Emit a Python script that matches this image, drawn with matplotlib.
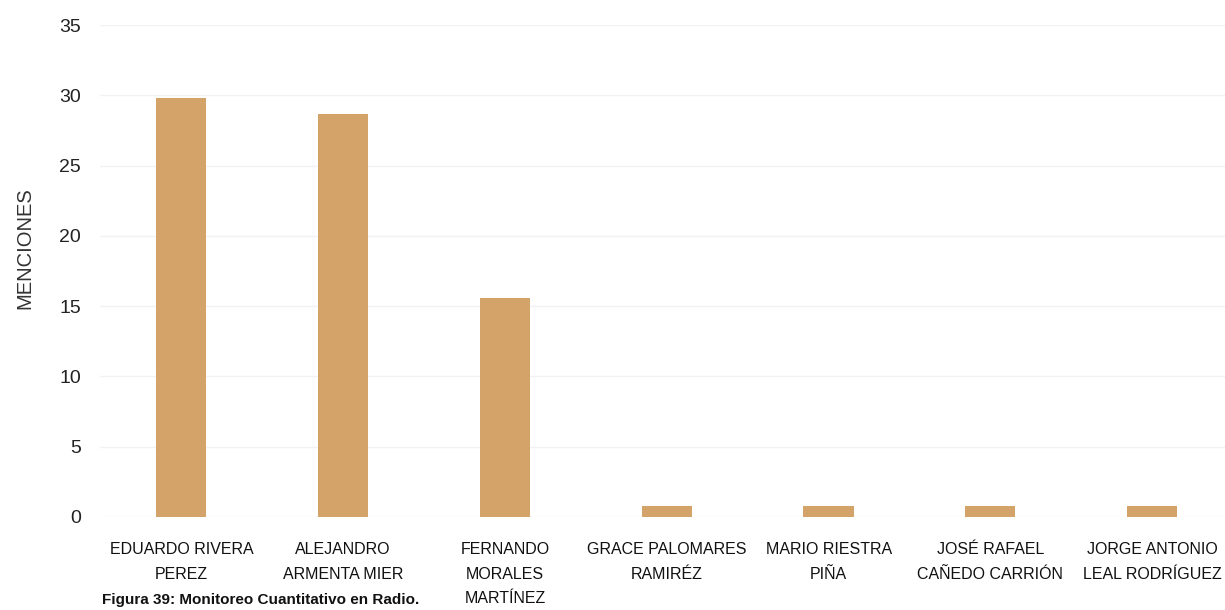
import matplotlib
matplotlib.use("Agg")
import matplotlib.pyplot as plt

# data
candidatos = [
    "EDUARDO RIVERA\nPEREZ",
    "ALEJANDRO\nARMENTA MIER",
    "FERNANDO\nMORALES\nMARTÍNEZ",
    "GRACE PALOMARES\nRAMIRÉZ",
    "MARIO RIESTRA\nPIÑA",
    "JOSÉ RAFAEL\nCAÑEDO CARRIÓN",
    "JORGE ANTONIO\nLEAL RODRÍGUEZ",
]
menciones = [29.8, 28.7, 15.6, 0.8, 0.8, 0.8, 0.8]
y_ticks = [0, 5, 10, 15, 20, 25, 30, 35]

plt.rcParams['font.family'] = ['Liberation Sans', 'DejaVu Sans']

fig = plt.figure(figsize=(12.25, 6.1), dpi=100)
ax = fig.add_axes([0.082, 0.1525, 0.918, 0.8065])

x = range(len(candidatos))
ax.bar(x, menciones, width=0.31, color='#D3A36A', zorder=2)

ax.set_ylim(0, 35)
ax.set_xlim(-0.5, 6.45)
ax.set_yticks(y_ticks)
ax.set_yticklabels([str(v) for v in y_ticks], fontsize=14, color='#222222')
ax.set_xticks(list(x))
ax.set_xticklabels(candidatos, fontsize=11.5, color='#111111', linespacing=1.8)
ax.tick_params(axis='both', length=0)
ax.tick_params(axis='y', pad=14)
ax.tick_params(axis='x', pad=18)
ax.grid(axis='y', color='#f2f2f2', linewidth=1, zorder=0)
for s in ax.spines.values():
    s.set_visible(False)

ax.set_ylabel("MENCIONES", fontsize=14.5, color='#333333')
ax.yaxis.set_label_coords(-0.059, 0.547)

fig.text(0.083, 0.016, "Figura 39: Monitoreo Cuantitativo en Radio.",
         fontsize=11, fontweight='bold', color='#111111', ha='left', va='center')

fig.savefig("out.png", dpi=100, facecolor='white')
